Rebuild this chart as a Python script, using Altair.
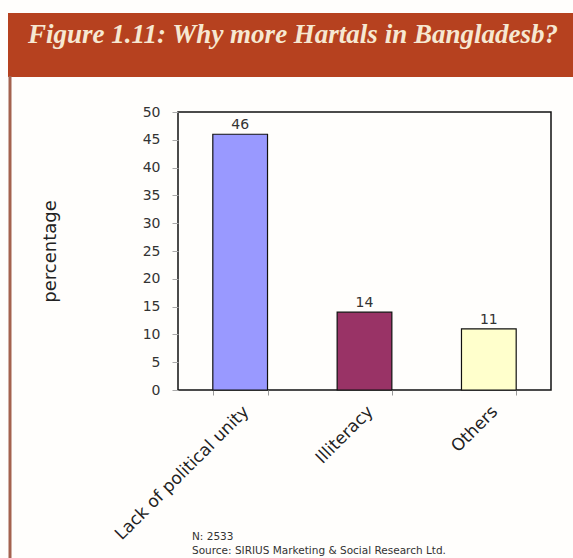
import altair as alt
import pandas as pd

categories = ["Lack of political unity", "Illiteracy", "Others"]
values = [46, 14, 11]
bar_colors = ["#9999FF", "#993366", "#FFFFCC"]
y_ticks = [0, 5, 10, 15, 20, 25, 30, 35, 40, 45, 50]
title_text = "Figure 1.11: Why more Hartals in Bangladesb?"
note_n = "N: 2533"
note_source = "Source: SIRIUS Marketing & Social Research Ltd."

W, H = 373, 278
df = pd.DataFrame({"cat": categories, "val": values, "color": bar_colors})

x_enc = alt.X(
    "cat:N", sort=categories, title=None,
    scale=alt.Scale(paddingInner=0.56, paddingOuter=0.28),
    axis=alt.Axis(labelAngle=-45, labelFont="DejaVu Sans", labelFontSize=17,
                  labelColor="#222222", tickBand="extent", tickSize=5,
                  tickColor="#999999", labelPadding=8, domain=False, labelLimit=400),
)
y_enc = alt.Y(
    "val:Q", title="percentage",
    scale=alt.Scale(domain=[0, 50], nice=False),
    axis=alt.Axis(values=y_ticks, grid=False, domain=False, tickSize=6,
                  tickColor="#aaaaaa", labelPadding=12, labelFont="DejaVu Sans",
                  labelFontSize=14, labelColor="#333333", labelOverlap=False,
                  titleFont="DejaVu Sans", titleFontSize=18, titleFontWeight="normal",
                  titleColor="#222222", titleAngle=270, titleX=-128, titleY=139,
                  titleBaseline="middle", titleAlign="center"),
)

bars = alt.Chart(df).mark_bar(stroke="#111111", strokeWidth=1.2).encode(
    x=x_enc, y=y_enc,
    color=alt.Color("color:N", scale=None),
)
labels = alt.Chart(df).mark_text(
    font="DejaVu Sans", fontSize=14, color="#333333", baseline="bottom", dy=-2
).encode(x=x_enc, y=y_enc, text="val:Q")

one = pd.DataFrame({"t": [title_text], "n": [note_n], "s": [note_source]})
banner = alt.Chart(one).mark_rect(color="#B6411F", clip=False).encode(
    x=alt.value(-170), x2=alt.value(400), y=alt.value(-99), y2=alt.value(-35)
)
border = alt.Chart(one).mark_rule(color="#A4624F", strokeWidth=3, clip=False).encode(
    x=alt.value(-168), y=alt.value(-36), y2=alt.value(450)
)
title = alt.Chart(one).mark_text(
    font="Liberation Serif", fontSize=27, fontStyle="italic", fontWeight="bold",
    color="#F6E8D2", align="center", baseline="alphabetic"
).encode(x=alt.value(115), y=alt.value(-69), text="t:N")

note1 = alt.Chart(one).mark_text(
    font="DejaVu Sans", fontSize=10.5, color="#333333", align="left", baseline="alphabetic"
).encode(x=alt.value(14), y=alt.value(428), text="n:N")
note2 = alt.Chart(one).mark_text(
    font="DejaVu Sans", fontSize=10.5, color="#333333", align="left", baseline="alphabetic"
).encode(x=alt.value(14), y=alt.value(442), text="s:N")

chart = alt.layer(banner, border, title, bars, labels, note1, note2).properties(
    width=W, height=H,
    autosize=alt.AutoSizeParams(type="none"),
    padding={"left": 178, "top": 112, "right": 22, "bottom": 168},
    background="#FFFEFC",
).configure_view(stroke="#111111", strokeWidth=1.5)

chart.save("out.html", embed_options={"renderer": "svg", "actions": False})
